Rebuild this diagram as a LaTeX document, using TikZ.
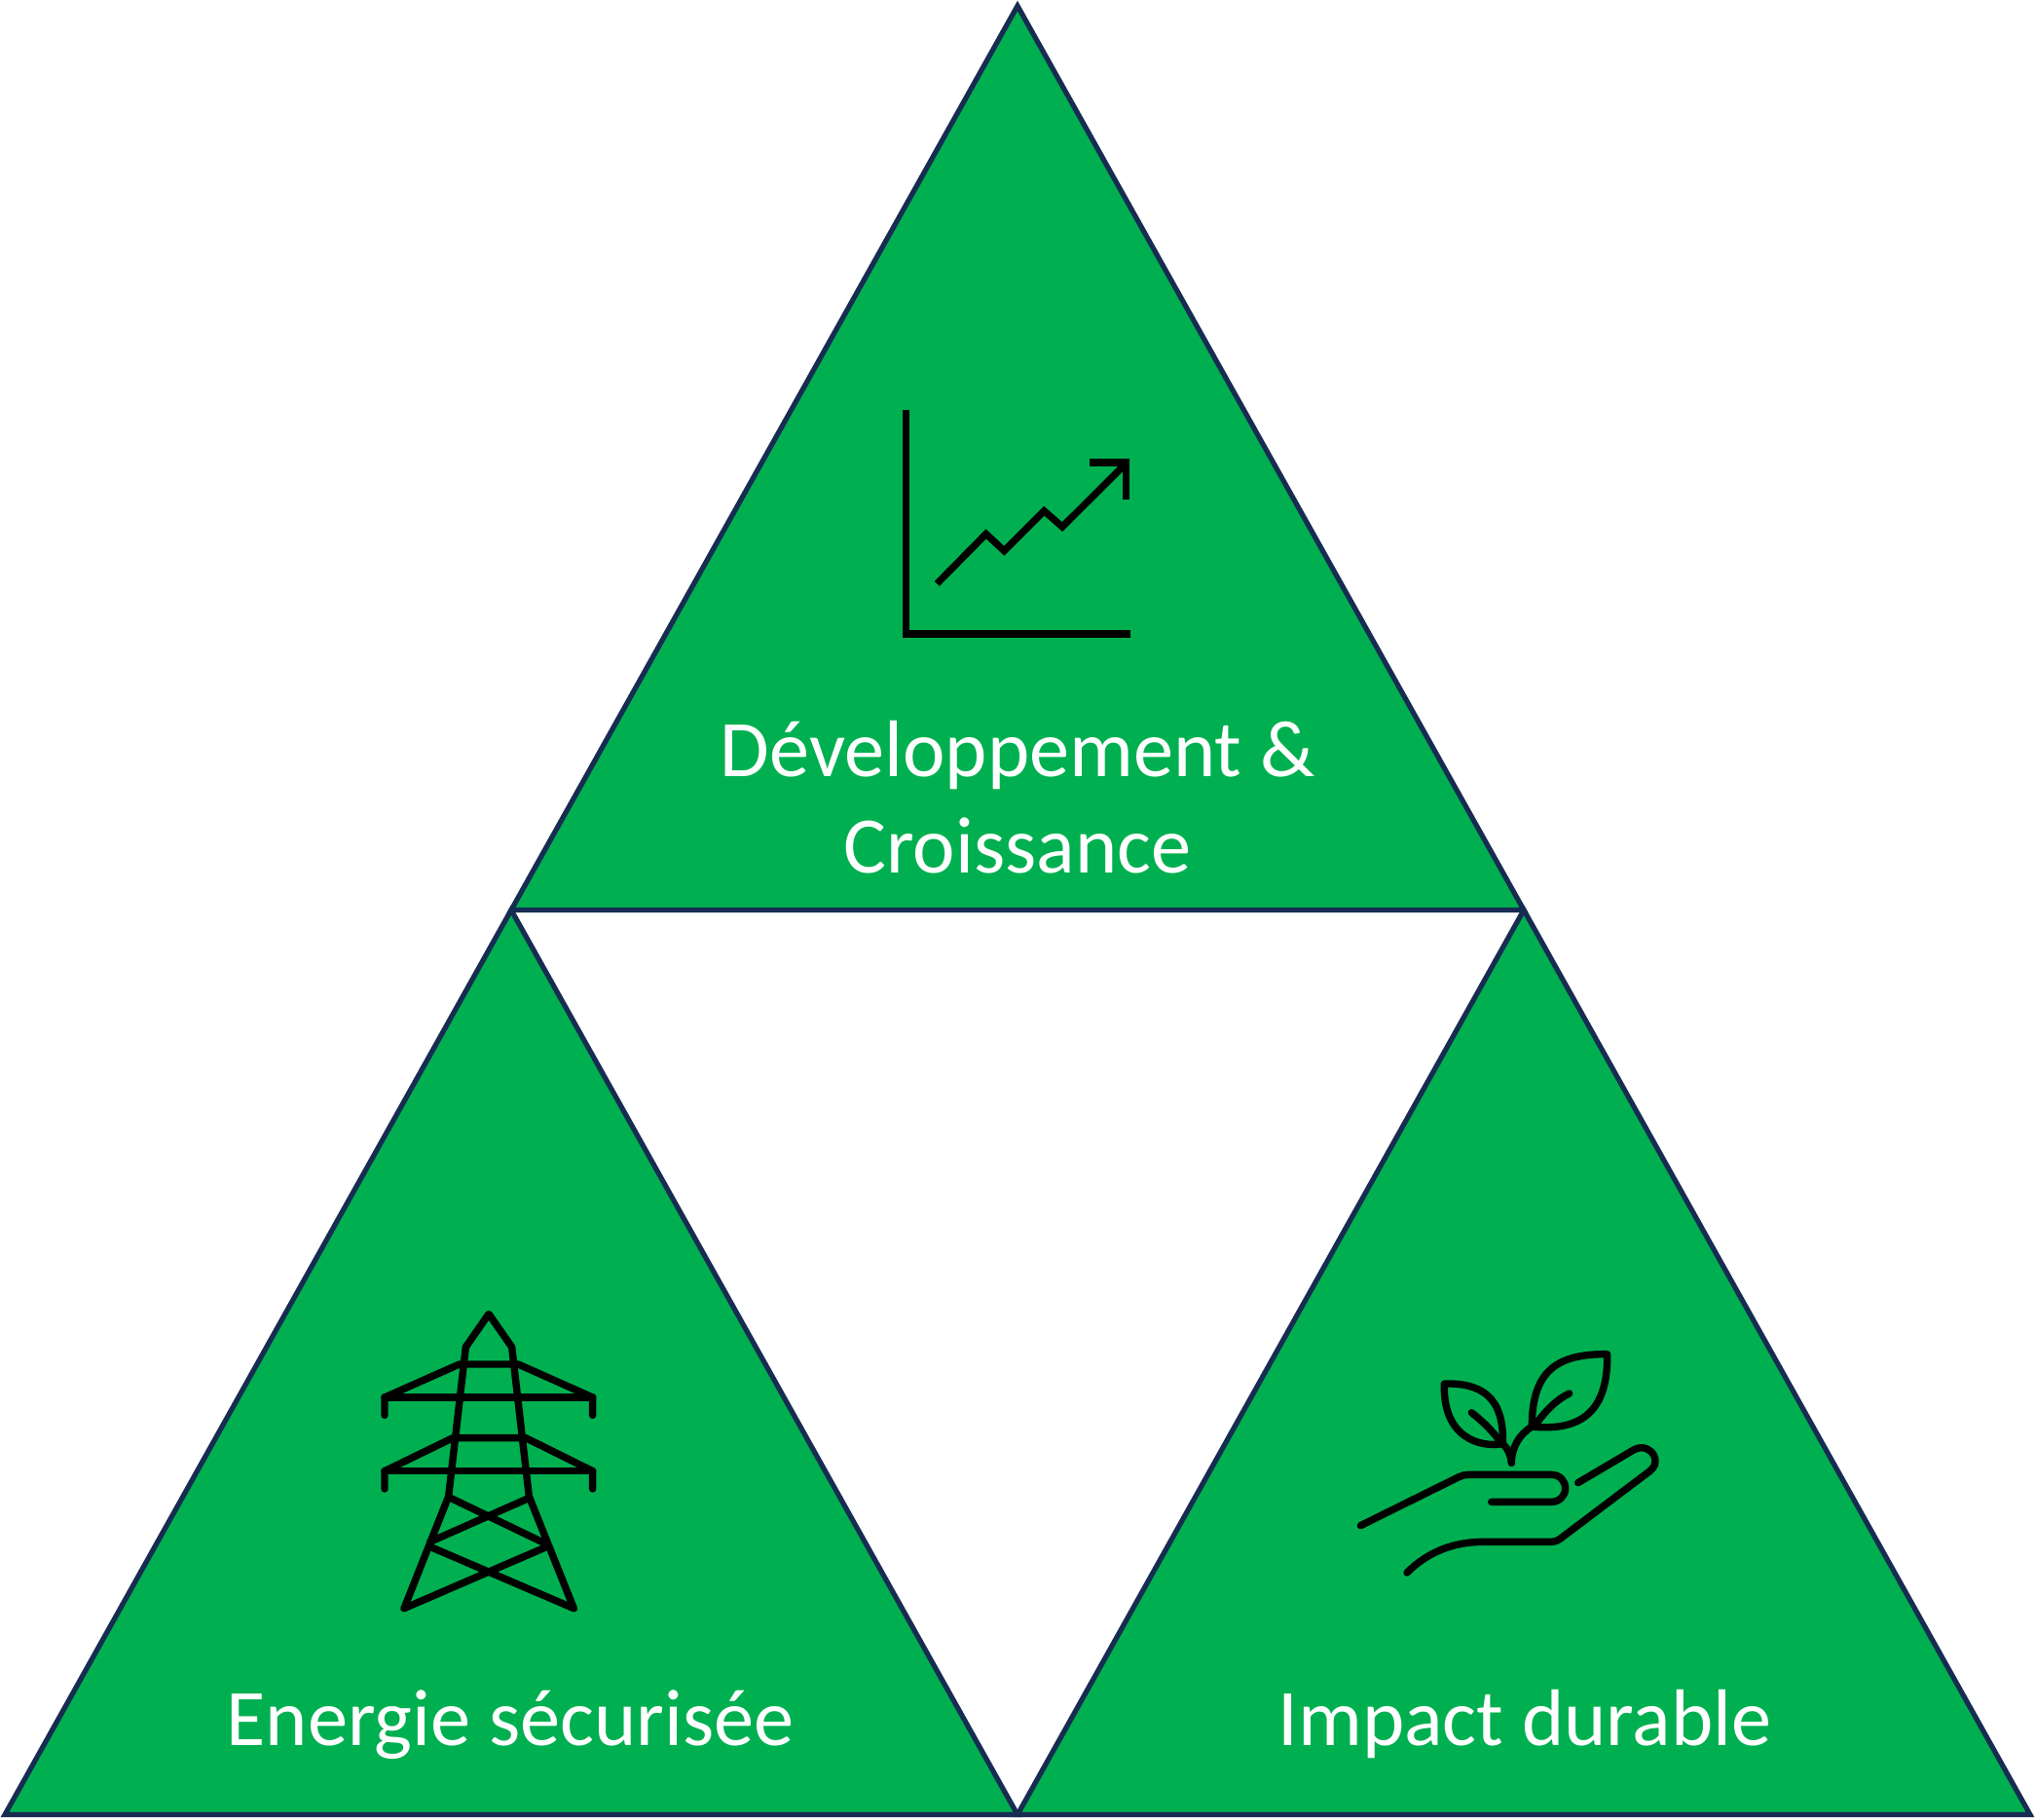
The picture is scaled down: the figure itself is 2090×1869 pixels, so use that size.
\documentclass[tikz,border=0pt]{standalone}
\usepackage{fontspec}
\setmainfont{Carlito}
\definecolor{tgreen}{HTML}{00B050}
\definecolor{tnavy}{HTML}{172C51}
\tikzset{
  tri/.style={fill=tgreen,draw=tnavy,line width=2.6pt,line join=miter},
  lab/.style={text=white,font=\fontsize{41.2}{50}\selectfont,align=center,anchor=base,inner sep=0pt},
  ico/.style={draw=black,line width=3.7pt,line cap=round,line join=round},
  chart/.style={draw=black,line width=3.6pt,line cap=butt,line join=miter},
}
\begin{document}
\begin{tikzpicture}[x=0.5pt,y=-0.5pt]
\useasboundingbox (0,0) rectangle (2090,1869);
\coordinate (tA) at (1045,6);
\coordinate (tL) at (525,934.5);
\coordinate (tR) at (1565,934.5);
\coordinate (lL) at (5,1863.5);
\coordinate (mB) at (1045,1863.5);
\coordinate (rR) at (2085,1863.5);
\draw[tri] (tA) -- (tR) -- (tL) -- cycle;
\draw[tri] (tL) -- (mB) -- (lL) -- cycle;
\draw[tri] (tR) -- (rR) -- (mB) -- cycle;
\node[lab] (dev) at (1045,797) {Développement \&};
\node[lab] (cro) at (1045,896) {Croissance};
\node[lab] (ene) at (524,1792) {Energie sécurisée};
\node[lab] (imp) at (1566,1792) {Impact durable};
% chart icon
\begin{scope}[shift={(880,380)},x=0.16667pt,y=-0.16667pt]
\draw[chart] (152,123) -- (152,813) -- (843,813);
\draw[chart] (247,658) -- (398,505) -- (454,557) -- (577,434) -- (633,483) -- (825,292);
\draw[chart] (716,285) -- (830,285) -- (830,398);
\end{scope}
% pylon icon
\begin{scope}[shift={(370,1320)},x=0.16667pt,y=-0.16667pt]
\draw[ico] (135,995) -- (272,650) -- (325,190) -- (396,88) -- (467,190) -- (520,650) -- (658,995);
\draw[ico] (135,995) -- (575,805);
\draw[ico] (658,995) -- (215,805);
\draw[ico] (272,652) -- (570,795);
\draw[ico] (520,655) -- (215,790);
\draw[ico] (75,400) -- (75,345) -- (305,243) -- (487,243) -- (716,345) -- (716,400);
\draw[ico] (75,345) -- (716,345);
\draw[ico] (75,627) -- (75,572) -- (285,470) -- (510,470) -- (716,572) -- (716,627);
\draw[ico] (75,572) -- (716,572);
\end{scope}
% hand icon
\begin{scope}[shift={(1380,1370)},x=0.16667pt,y=-0.16667pt]
\draw[ico] (490,338) .. controls (420,350) and (305,320) .. (310,153) .. controls (420,150) and (495,190) .. (490,338);
\draw[ico] (812,62) .. controls (650,60) and (580,120) .. (580,285) .. controls (730,300) and (815,240) .. (812,62);
\draw[ico] (517,397) .. controls (517,350) and (540,310) .. (580,285);
\draw[ico] (490,338) .. controls (505,350) and (515,375) .. (517,397);
\draw[ico] (394,242) .. controls (430,270) and (460,300) .. (485,335);
\draw[ico] (695,183) .. controls (650,205) and (620,240) .. (590,280);
\draw[ico] (52,590) -- (355,440) .. controls (365,435) and (375,433) .. (385,433) -- (640,433) .. controls (665,433) and (683,452) .. (683,475) .. controls (683,498) and (665,517) .. (640,517) -- (455,517);
\draw[ico] (195,735) .. controls (260,670) and (340,640) .. (430,640) -- (640,640) .. controls (650,640) and (658,637) .. (665,632) -- (930,432) .. controls (950,418) and (960,408) .. (960,392) .. controls (960,368) and (940,350) .. (917,350) .. controls (908,350) and (900,353) .. (893,357) -- (722,458);
\end{scope}
\end{tikzpicture}
\end{document}
